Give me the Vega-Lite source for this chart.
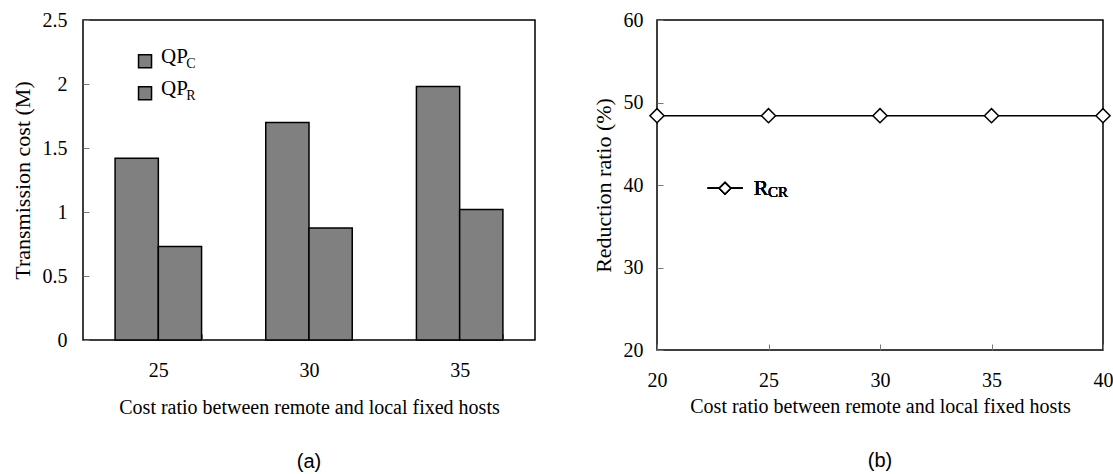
{
  "$schema": "https://vega.github.io/schema/vega-lite/v6.json",
  "padding": {"left": 10, "top": 9, "right": 0, "bottom": 0},
  "background": "white",
  "config": {
    "font": "Liberation Serif",
    "view": {"stroke": "black", "strokeWidth": 1.5},
    "axis": {
      "domain": false,
      "grid": false,
      "labelFont": "Liberation Serif",
      "labelFontSize": 20,
      "labelColor": "black",
      "titleFont": "Liberation Serif",
      "titleFontWeight": "normal",
      "titleColor": "black",
      "tickColor": "#777777",
      "tickSize": -6,
      "tickWidth": 1
    },
    "title": {"font": "Liberation Sans", "fontSize": 20, "fontWeight": "normal", "orient": "bottom", "color": "black"}
  },
  "spacing": 55,
  "hconcat": [
    {
      "width": 452,
      "height": 320,
      "title": {"text": "(a)", "orient": "bottom", "offset": 35},
      "data": {
        "values": [
          {"cost_ratio": "25", "scheme": "QP_C", "cost": 1.42},
          {"cost_ratio": "25", "scheme": "QP_R", "cost": 0.73},
          {"cost_ratio": "30", "scheme": "QP_C", "cost": 1.70},
          {"cost_ratio": "30", "scheme": "QP_R", "cost": 0.875},
          {"cost_ratio": "35", "scheme": "QP_C", "cost": 1.98},
          {"cost_ratio": "35", "scheme": "QP_R", "cost": 1.02}
        ]
      },
      "layer": [
        {
          "mark": {"type": "bar", "fill": "#808080", "stroke": "black", "strokeWidth": 1.5},
          "encoding": {
            "x": {
              "field": "cost_ratio",
              "type": "nominal",
              "scale": {"paddingInner": 0.426, "paddingOuter": 0.213},
              "axis": {
                "title": "Cost ratio between remote and local fixed hosts",
                "titleFontSize": 20,
                "labelAngle": 0,
                "tickBand": "extent",
                "labelPadding": 26,
                "titlePadding": 17
              }
            },
            "xOffset": {"field": "scheme", "type": "nominal", "scale": {"paddingInner": 0, "paddingOuter": 0}},
            "y": {
              "field": "cost",
              "type": "quantitative",
              "scale": {"domain": [0, 2.5], "nice": false},
              "axis": {
                "title": "Transmission cost (M)",
                "titleFontSize": 22,
                "values": [0, 0.5, 1, 1.5, 2, 2.5],
                "format": "~g",
                "labelPadding": 22,
                "titlePadding": 8
              }
            }
          }
        },
        {
          "data": {"values": [{"label": "QP", "sub": "C", "level": 2.178}, {"label": "QP", "sub": "R", "level": 1.927}]},
          "layer": [
            {
              "mark": {"type": "point", "shape": "square", "size": 169, "filled": true, "fill": "#808080", "stroke": "black", "strokeWidth": 1.5, "opacity": 1, "xOffset": -13.3},
              "encoding": {"x": {"datum": "25"}, "y": {"field": "level", "type": "quantitative"}}
            },
            {
              "mark": {"type": "text", "align": "left", "baseline": "alphabetic", "fontSize": 21, "fontWeight": "normal", "font": "Liberation Serif", "color": "black", "xOffset": 2.7, "dy": 2},
              "encoding": {"x": {"datum": "25"}, "y": {"field": "level", "type": "quantitative"}, "text": {"field": "label"}}
            },
            {
              "mark": {"type": "text", "align": "left", "baseline": "alphabetic", "fontSize": 14, "fontWeight": "normal", "font": "Liberation Serif", "color": "black", "xOffset": 28, "dy": 6.5},
              "encoding": {"x": {"datum": "25"}, "y": {"field": "level", "type": "quantitative"}, "text": {"field": "sub"}}
            }
          ]
        }
      ]
    },
    {
      "width": 446,
      "height": 330,
      "title": {"text": "(b)", "orient": "bottom", "offset": 35},
      "data": {
        "values": [
          {"cost_ratio": 20, "reduction": 48.4},
          {"cost_ratio": 25, "reduction": 48.4},
          {"cost_ratio": 30, "reduction": 48.4},
          {"cost_ratio": 35, "reduction": 48.4},
          {"cost_ratio": 40, "reduction": 48.4}
        ]
      },
      "encoding": {
        "x": {
          "field": "cost_ratio",
          "type": "quantitative",
          "scale": {"domain": [20, 40], "nice": false},
          "axis": {
            "title": "Cost ratio between remote and local fixed hosts",
            "titleFontSize": 20,
            "values": [20, 25, 30, 35, 40],
            "labelPadding": 26,
            "titlePadding": 6,
            "labelFlush": false
          }
        },
        "y": {
          "field": "reduction",
          "type": "quantitative",
          "scale": {"domain": [20, 60], "nice": false},
          "axis": {
            "title": "Reduction ratio (%)",
            "titleFontSize": 22,
            "values": [20, 30, 40, 50, 60],
            "labelPadding": 20,
            "titlePadding": 8,
            "labelFlush": false
          }
        }
      },
      "layer": [
        {"mark": {"type": "line", "color": "black", "strokeWidth": 1.5, "clip": false}},
        {"mark": {"type": "point", "shape": "diamond", "size": 200, "filled": true, "fill": "white", "stroke": "black", "strokeWidth": 1.5, "opacity": 1, "clip": false}},
        {
          "mark": {"type": "rule", "color": "black", "strokeWidth": 1.5},
          "encoding": {"x": {"datum": 22.27}, "x2": {"datum": 23.84}, "y": {"datum": 39.6}}
        },
        {
          "mark": {"type": "point", "shape": "diamond", "size": 130, "filled": true, "fill": "white", "stroke": "black", "strokeWidth": 1.5, "opacity": 1},
          "encoding": {"x": {"datum": 23.05}, "y": {"datum": 39.6}}
        },
        {
          "mark": {"type": "text", "align": "left", "baseline": "alphabetic", "fontSize": 22, "fontWeight": "normal", "font": "Liberation Serif", "color": "black", "dy": 7},
          "encoding": {"x": {"datum": 24.34}, "y": {"datum": 39.6}, "text": {"value": "R"}}
        },
        {
          "mark": {"type": "text", "align": "left", "baseline": "alphabetic", "fontSize": 15, "fontWeight": "normal", "font": "Liberation Serif", "color": "black", "dy": 8.5},
          "encoding": {"x": {"datum": 24.98}, "y": {"datum": 39.6}, "text": {"value": "CR"}}
        }
      ]
    }
  ]
}
